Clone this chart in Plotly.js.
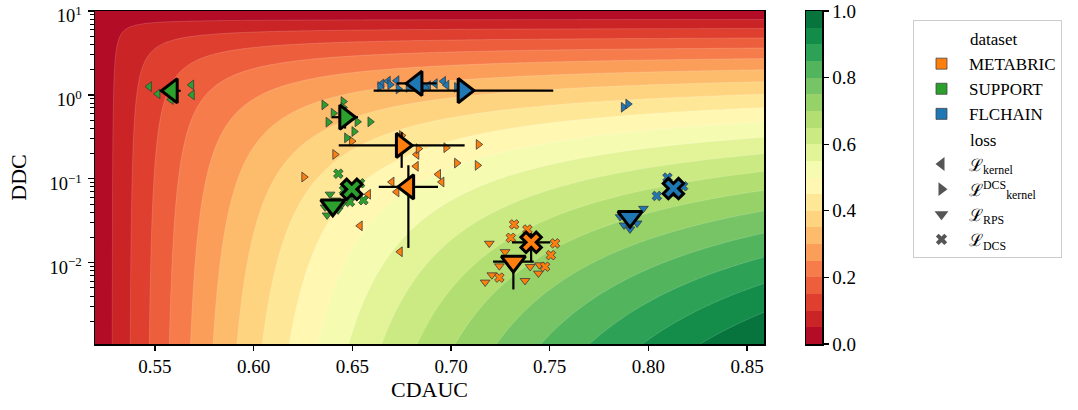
<!DOCTYPE html>
<html>
<head>
<meta charset="utf-8">
<script src="https://cdn.plot.ly/plotly-3.0.1.min.js"></script>
<style>html,body{margin:0;padding:0;background:#fff;}#chart{width:1078px;height:410px;}</style>
</head>
<body>
<div id="chart"></div>
<script>
// ---------------- data ----------------
const datasets = ["METABRIC", "SUPPORT", "FLCHAIN"];
const datasetColors = ["#ff7f0e", "#2ca02c", "#1f77b4"];
const losses = ["kernel", "kernelDCS", "RPS", "DCS"];
const lossSymbols = ["triangle-left", "triangle-right", "triangle-down", "x"];
const lossLabels = ["ℒ<sub>kernel</sub>", "ℒ<sup>DCS</sup><sub>kernel</sub>", "ℒ<sub>RPS</sub>", "ℒ<sub>DCS</sub>"];

// axis limits (also the normalisation bounds of the score surface)
const xLimits = [0.5196, 0.8586];
const logYLimits = [-2.969, 1.0];

// mean results (large markers), order of losses: kernel, kernelDCS, RPS, DCS
const metabricMeanX = [0.6784, 0.675, 0.7316, 0.7406];
const metabricMeanY = [0.080, 0.25, 0.0103, 0.0175];
const metabricErrX = [0.015, 0.0319, 0.0103, 0.0097];
const metabricErrYPlus = [0.065, 0.11, 0.002, 0.005];
const metabricErrYMinus = [0.065, 0.115, 0.0055, 0.0073];

const supportMeanX = [0.5586, 0.6463, 0.6401, 0.6497];
const supportMeanY = [1.12, 0.542, 0.0484, 0.075];
const supportErrX = [0.0044, 0.0066, 0.003, 0.004];
const supportErrYPlus = [0.15, 0.17, 0.008, 0.015];
const supportErrYMinus = [0.15, 0.145, 0.008, 0.015];

const flchainMeanX = [0.6826, 0.7063, 0.7907, 0.8127];
const flchainMeanY = [1.37, 1.125, 0.0352, 0.0765];
const flchainErrX = [0.0101, 0.0455, 0.004, 0.003];
const flchainErrYPlus = [0.08, 0.2, 0.006, 0.012];
const flchainErrYMinus = [0.08, 0.2, 0.006, 0.012];

// individual runs (small markers)
const metabricKernelX = [0.6826, 0.6823, 0.6936, 0.6953, 0.6700, 0.6725, 0.6581, 0.6539, 0.6742];
const metabricKernelY = [0.195, 0.141, 0.113, 0.0916, 0.0916, 0.0697, 0.0654, 0.0275, 0.0135];
const metabricKernelDcsX = [0.6255, 0.6412, 0.6497, 0.6750, 0.6835, 0.6975, 0.7139, 0.7029, 0.7134];
const metabricKernelDcsY = [0.105, 0.195, 0.281, 0.329, 0.2285, 0.235, 0.257, 0.154, 0.1446];
const metabricRpsX = [0.7194, 0.7274, 0.7245, 0.7207, 0.7173, 0.7401, 0.7375, 0.7443, 0.7448];
const metabricRpsY = [0.017, 0.0135, 0.00914, 0.00714, 0.00585, 0.00896, 0.00611, 0.00748, 0.0094];
const metabricDcsX = [0.7320, 0.7387, 0.7303, 0.7527, 0.7506, 0.7477, 0.7245];
const metabricDcsY = [0.0286, 0.0249, 0.0198, 0.017, 0.0123, 0.00896, 0.00664];

const supportKernelX = [0.5471, 0.5514, 0.5581, 0.5685, 0.5688];
const supportKernelY = [1.255, 1.028, 0.880, 1.315, 1.0];
const supportKernelDcsX = [0.6357, 0.6454, 0.6454, 0.6404, 0.6378, 0.6525, 0.6590, 0.6509, 0.6472];
const supportKernelDcsY = [0.761, 0.833, 0.707, 0.605, 0.473, 0.478, 0.478, 0.366, 0.308];
const supportRpsX = [0.6387, 0.6362, 0.6372, 0.6428, 0.6417, 0.6448];
const supportRpsY = [0.0654, 0.0459, 0.0369, 0.0423, 0.0556, 0.0498];
const supportDcsX = [0.6429, 0.6458, 0.6488, 0.6556, 0.6539, 0.6514];
const supportDcsY = [0.115, 0.073, 0.053, 0.0556, 0.0885, 0.0637];

const flchainKernelX = [0.6649, 0.6681, 0.6725, 0.6885, 0.6919, 0.6961, 0.6978];
const flchainKernelY = [1.351, 1.459, 1.479, 1.289, 1.362, 1.45, 1.307];
const flchainKernelDcsX = [0.6640, 0.6691, 0.6733, 0.6784, 0.6868, 0.7029, 0.7874, 0.7897];
const flchainKernelDcsY = [1.255, 1.325, 1.178, 1.231, 1.221, 1.231, 0.712, 0.778];
const flchainRpsX = [0.7975, 0.7857, 0.7877, 0.7943, 0.7907];
const flchainRpsY = [0.0443, 0.0352, 0.028, 0.0296, 0.0251];
const flchainDcsX = [0.8097, 0.8043, 0.8176, 0.8120];
const flchainDcsY = [0.1033, 0.0625, 0.0815, 0.069];

// colour levels of the filled contours / colour bar
const contourStart = 0.05, contourEnd = 0.95, contourStep = 0.05;
const colorbarTicks = [0, 0.2, 0.4, 0.6, 0.8, 1.0];
const yTickVals = [0.01, 0.1, 1, 10];
const yTickText = ["10<sup>−2</sup>", "10<sup>−1</sup>", "10<sup>0</sup>", "10<sup>1</sup>"];
const yMinorTickVals = [0.002,0.003,0.004,0.005,0.006,0.007,0.008,0.009,0.02,0.03,0.04,0.05,0.06,0.07,0.08,0.09,0.2,0.3,0.4,0.5,0.6,0.7,0.8,0.9,2,3,4,5,6,7,8,9];
const xTickVals = [0.55, 0.60, 0.65, 0.70, 0.75, 0.80, 0.85];

// RdYlGn colormap anchors
const rdylgn = ["#a50026","#d73027","#f46d43","#fdae61","#fee08b","#ffffbf","#d9ef8b","#a6d96a","#66bd63","#1a9850","#006837"];

// ---------------- helpers ----------------
function hex2rgb(h){return [parseInt(h.slice(1,3),16),parseInt(h.slice(3,5),16),parseInt(h.slice(5,7),16)];}
function cmap(t){
  t=Math.max(0,Math.min(1,t));
  const p=t*(rdylgn.length-1), i=Math.min(Math.floor(p),rdylgn.length-2), f=p-i;
  const a=hex2rgb(rdylgn[i]), b=hex2rgb(rdylgn[i+1]);
  return "rgb("+a.map((v,k)=>Math.round(v+(b[k]-v)*f)).join(",")+")";
}
const nBands = Math.round((contourEnd-contourStart)/contourStep)+2; // 20 bands
// plotly fills band k with colorscale position k/(nBands-1); use the band-midpoint colour
const contourScale = [];
for(let k=0;k<nBands;k++){ contourScale.push([k/(nBands-1), cmap((k+0.5)/nBands)]); }
const fullScale = rdylgn.map((c,i)=>[i/(rdylgn.length-1), c]);

// score surface: harmonic mean of normalised CDAUC and normalised (−log DDC)
const N = 220;
const gridX = [], gridY = [], gridZ = [];
for(let i=0;i<N;i++){ gridX.push(xLimits[0]+(xLimits[1]-xLimits[0])*i/(N-1)); }
for(let j=0;j<N;j++){ gridY.push(Math.pow(10, logYLimits[0]+(logYLimits[1]-logYLimits[0])*j/(N-1))); }
for(let j=0;j<N;j++){
  const b=(logYLimits[1]-Math.log10(gridY[j]))/(logYLimits[1]-logYLimits[0]);
  const row=[];
  for(let i=0;i<N;i++){
    const a=(gridX[i]-xLimits[0])/(xLimits[1]-xLimits[0]);
    row.push(a+b>0 ? 2*a*b/(a+b) : 0);
  }
  gridZ.push(row);
}

const cbMid=[]; for(let k=0;k<nBands;k++){ cbMid.push((k+0.5)/nBands); }

// ---------------- traces ----------------
const traces = [];
traces.push({type:"contour", x:gridX, y:gridY, z:gridZ, xaxis:"x", yaxis:"y",
  autocontour:false, contours:{start:contourStart, end:contourEnd, size:contourStep, coloring:"fill", showlines:true},
  line:{width:0.6, color:"rgba(255,255,255,0.28)", smoothing:0},
  colorscale:contourScale, showscale:false, hoverinfo:"skip", showlegend:false});

traces.push({type:"heatmap", x:[0], y:cbMid, z:cbMid.map(v=>[v]), xaxis:"x3", yaxis:"y3",
  colorscale:fullScale, zmin:0, zmax:1, showscale:false, hoverinfo:"skip", showlegend:false});

const small = [
  [[metabricKernelX,metabricKernelY],[metabricKernelDcsX,metabricKernelDcsY],[metabricRpsX,metabricRpsY],[metabricDcsX,metabricDcsY]],
  [[supportKernelX,supportKernelY],[supportKernelDcsX,supportKernelDcsY],[supportRpsX,supportRpsY],[supportDcsX,supportDcsY]],
  [[flchainKernelX,flchainKernelY],[flchainKernelDcsX,flchainKernelDcsY],[flchainRpsX,flchainRpsY],[flchainDcsX,flchainDcsY]]
];
small.forEach((ds,d)=>ds.forEach((xy,l)=>{
  traces.push({type:"scatter", mode:"markers", x:xy[0], y:xy[1], xaxis:"x", yaxis:"y",
    marker:{symbol:lossSymbols[l], size:8.5, color:datasetColors[d], line:{color:"#3a3a3a", width:0.8}},
    hoverinfo:"skip", showlegend:false});
}));

const means = [
  [metabricMeanX, metabricMeanY, metabricErrX, metabricErrYPlus, metabricErrYMinus],
  [supportMeanX, supportMeanY, supportErrX, supportErrYPlus, supportErrYMinus],
  [flchainMeanX, flchainMeanY, flchainErrX, flchainErrYPlus, flchainErrYMinus]
];
means.forEach((m,d)=>{
  traces.push({type:"scatter", mode:"markers", x:m[0], y:m[1], xaxis:"x", yaxis:"y",
    marker:{symbol:lossSymbols, size:[21,21,21,18], color:datasetColors[d], opacity:1, line:{color:"#000000", width:3}},
    error_x:{type:"data", array:m[2], color:"#000000", thickness:2.2, width:0},
    error_y:{type:"data", symmetric:false, array:m[3], arrayminus:m[4], color:"#000000", thickness:2.2, width:0},
    hoverinfo:"skip", showlegend:false});
});

// legend entries
const pad = "\u00a0".repeat(12);
datasets.forEach((name,d)=>{
  traces.push({type:"scatter", mode:"markers", x:[null], y:[null], xaxis:"x", yaxis:"y", name:name,
    legendgroup:"dataset", legendgrouptitle:{text:pad+"dataset"},
    marker:{symbol:"square", size:11, color:datasetColors[d], line:{color:"#444", width:0.8}}});
});
losses.forEach((name,l)=>{
  traces.push({type:"scatter", mode:"markers", x:[null], y:[null], xaxis:"x", yaxis:"y", name:lossLabels[l],
    legendgroup:"loss", legendgrouptitle:{text:pad+"loss"},
    marker:{symbol:lossSymbols[l], size:(l===3?10:12), color:"#555555", line:{width:0}}});
});

// ---------------- layout ----------------
const W=1078, H=410;
const plotL=95, plotR=764, plotT=11, plotB=344;
const xDom=[plotL/W, plotR/W], yDom=[(H-plotB)/H, (H-plotT)/H];
const FONT="Liberation Serif, DejaVu Serif, serif";

const layout = {
  width:W, height:H, margin:{l:0,r:0,t:0,b:0}, paper_bgcolor:"white", plot_bgcolor:"white",
  font:{family:FONT, size:19, color:"black"},
  showlegend:true,
  xaxis:{domain:xDom, range:xLimits, anchor:"y", tickmode:"array", tickvals:xTickVals,
    ticktext:xTickVals.map(v=>v.toFixed(2)), ticks:"outside", ticklen:5, tickwidth:1.2, tickcolor:"black",
    showline:true, linewidth:1.5, linecolor:"black", mirror:true, showgrid:false, zeroline:false,
    ticklabeloverflow:"allow", tickfont:{size:19}, title:{text:"CDAUC", font:{size:22}, standoff:4}},
  yaxis:{domain:yDom, type:"log", range:[logYLimits[0], logYLimits[1]+1e-6], anchor:"x", tickmode:"array", tickvals:yTickVals, ticktext:yTickText,
    ticks:"outside", ticklen:6, tickwidth:1.2, tickcolor:"black", ticklabelshift:5, ticklabelstandoff:2,
    minor:{tickmode:"array", tickvals:yMinorTickVals, ticks:"outside", ticklen:3.5, tickwidth:1, tickcolor:"black", showgrid:false},
    showline:true, linewidth:1.5, linecolor:"black", mirror:true, showgrid:false, zeroline:false,
    ticklabeloverflow:"allow", tickfont:{size:18.5}, title:{text:"DDC", font:{size:22}, standoff:17}},
  xaxis3:{domain:[806/W, 822/W], anchor:"y3", range:[-0.5,0.5], showticklabels:false, ticks:"",
    showline:true, linewidth:1.5, linecolor:"black", mirror:true, showgrid:false, zeroline:false, fixedrange:true},
  yaxis3:{domain:yDom, anchor:"x3", side:"right", range:[0,1], tickmode:"array", tickvals:colorbarTicks,
    ticktext:colorbarTicks.map(v=>v.toFixed(1)), ticks:"outside", ticklen:5, tickwidth:1.2, tickcolor:"black",
    showline:true, linewidth:1.5, linecolor:"black", mirror:true, showgrid:false, zeroline:false,
    ticklabeloverflow:"allow", tickfont:{size:19}},
  legend:{x:913/W, y:(H-20)/H, xanchor:"left", yanchor:"top", bgcolor:"white", bordercolor:"#cccccc", borderwidth:1,
    tracegroupgap:0, itemwidth:45, traceorder:"grouped", font:{size:17}, itemsizing:"trace",
    grouptitlefont:{size:17}}
};

Plotly.newPlot("chart", traces, layout, {staticPlot:true, displayModeBar:false});
</script>
</body>
</html>
